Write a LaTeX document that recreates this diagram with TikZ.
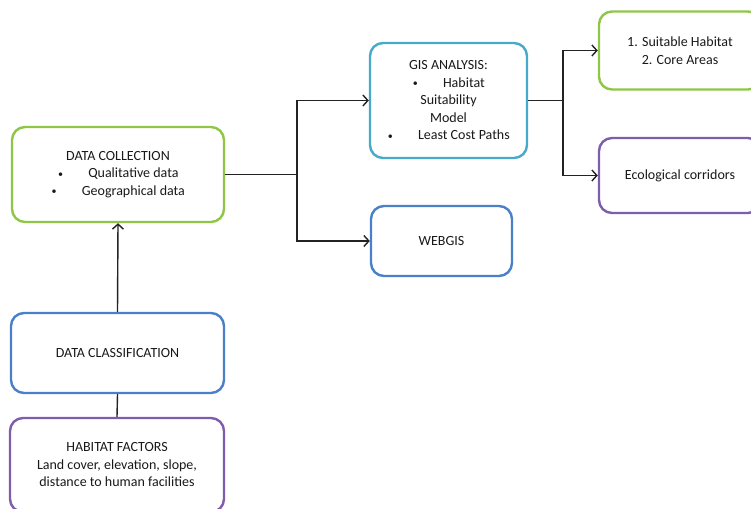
\documentclass[tikz,border=0pt]{standalone}
\usepackage{fontspec}
\setmainfont{Carlito}
\usetikzlibrary{arrows.meta}
\definecolor{bgreen}{RGB}{143,198,70}
\definecolor{bblue}{RGB}{74,128,200}
\definecolor{bcyan}{RGB}{72,170,203}
\definecolor{bpurple}{RGB}{128,92,172}
\definecolor{txt}{RGB}{25,25,25}
\definecolor{conn}{RGB}{35,35,35}
\tikzset{
  box/.style={draw, line width=2.4pt, rounded corners=13pt, fill=white, align=center,
    text=txt, font=\fontsize{14}{17.5}\selectfont, inner sep=0pt},
  conn/.style={draw=conn, line width=1.4pt},
  arr/.style={conn, -{Straight Barb[length=5pt,width=11pt,line width=1.4pt]}},
}
\newcommand{\bul}{\makebox[0.45em]{\raisebox{0.05em}{\fontsize{10}{10}\selectfont\textbullet}}\hspace{1.75em}}
\begin{document}
\begin{tikzpicture}[x=1pt,y=-1pt]
\useasboundingbox (0,0) rectangle (751,508);
\node[box, draw=bgreen, minimum width=212pt, minimum height=95pt] (coll) at (118,174.5)
  {DATA COLLECTION\\\bul Qualitative data\\\bul Geographical data};
\node[box, draw=bblue, minimum width=213pt, minimum height=80pt] (class) at (117.5,353)
  {DATA CLASSIFICATION};
\node[box, draw=bpurple, minimum width=214pt, minimum height=94pt] (habit) at (117,465)
  {HABITAT FACTORS\\Land cover, elevation, slope,\\distance to human facilities};
\node[box, draw=bcyan, minimum width=157pt, minimum height=115pt] (gis) at (448.5,100.5)
  {GIS ANALYSIS:\\\bul Habitat\\Suitability\\Model\\\bul Least Cost Paths};
\node[box, draw=bblue, minimum width=141pt, minimum height=70pt] (web) at (441.5,241)
  {WEBGIS};
\node[box, draw=bgreen, minimum width=162pt, minimum height=78pt] (suit) at (680,50.5)
  {1. Suitable Habitat\\2. Core Areas};
\node[box, draw=bpurple, minimum width=162pt, minimum height=75pt] (eco) at (680,175.5)
  {Ecological corridors};
\coordinate (j1) at (297,174.5);
\coordinate (j2) at (563,100.5);
\draw[arr] (class.north) -- (coll.south);
\draw[conn] (class.south) -- (habit.north);
\draw[conn] (coll.east) -- (j1);
\draw[arr] (j1) |- (gis.west);
\draw[arr] (j1) |- (web.west);
\draw[conn] (gis.east) -- (j2);
\draw[arr] (j2) |- (suit.west);
\draw[arr] (j2) |- (eco.west);
\end{tikzpicture}
\end{document}
